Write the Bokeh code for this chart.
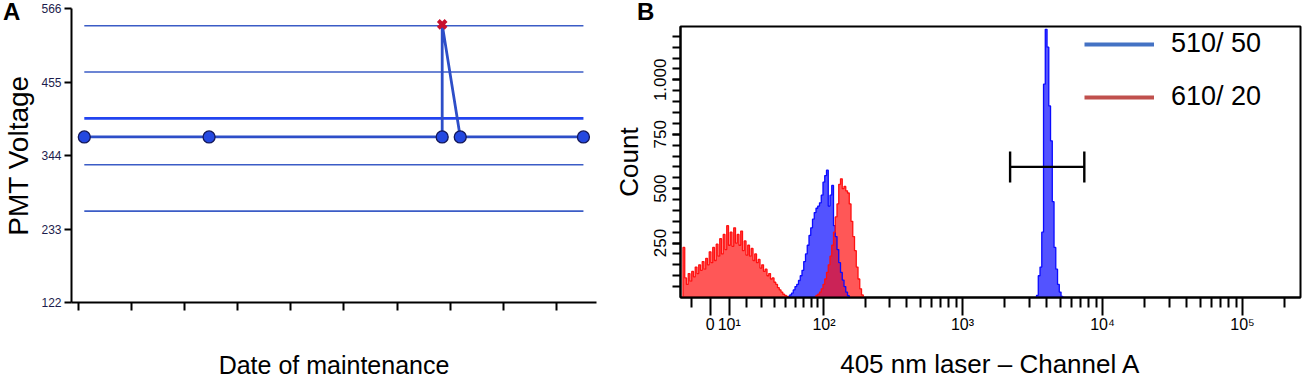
import math
from bokeh.plotting import figure
from bokeh.models import Range1d, FixedTicker, Legend, LegendItem, Div
from bokeh.layouts import row, column
from bokeh.embed import file_html
from bokeh.resources import INLINE

FONT = "Liberation Sans"

# ---------------- Panel A data ----------------
maint_dates = [0.11, 2.46, 6.85, 6.85, 7.19, 9.51]
pmt_voltage = [372, 372, 372, 542, 372, 372]
flagged = [False, False, False, True, False, False]
limit_levels = [540, 470, 330, 260]
target_level = 400
volt_ticks = [122, 233, 344, 455, 566]
date_ticks = [0, 1, 2, 3, 4, 5, 6, 7, 8, 9]

# ---------------- Panel B data (display-scale bins) ----------------
bin_width = 0.0125
red_low_start = 1.01
red_low_counts = [230, 90, 60, 110, 75, 120, 95, 140, 110, 150,
                  125, 165, 130, 180, 150, 210, 160, 230, 170, 245,
                  190, 270, 200, 290, 220, 330, 240, 300, 235, 320,
                  250, 290, 240, 305, 215, 260, 195, 240, 190, 225,
                  170, 200, 160, 175, 135, 150, 120, 130, 100, 110,
                  85, 90, 70, 60, 45, 35, 25, 15, 10, 5]
blue_mid_start = 1.76
blue_mid_counts = [5, 12, 20, 35, 50, 60, 78, 100, 125, 165,
                   200, 240, 285, 320, 360, 390, 410, 420, 435, 470,
                   530, 560, 585, 420, 470, 515, 330, 280, 220, 160,
                   115, 80, 50, 25, 8]
red_mid_start = 1.96
red_mid_counts = [10, 15, 25, 40, 60, 85, 115, 150, 190, 240,
                  300, 370, 430, 520, 545, 500, 510, 490, 480, 430,
                  350, 280, 215, 140, 85, 40, 12]
blue_bright_start = 3.535
blue_bright_counts = [10, 100, 140, 300, 980, 1232, 1150, 880, 720, 440,
                      230, 130, 60, 25, 5]
legend_labels = ["510/ 50", "610/ 20"]
panel_letters = ["A", "B"]
gate_range = [3.34, 3.87]
gate_count = 600
count_major = [250, 500, 750, 1000]
count_labels = ["250", "500", "750", "1.000"]
count_minor = list(range(50, 1201, 50))
decade_values = [0, 10, 100, 1000, 10000, 100000]
decade_labels = ["0", "10\u00b9", "10\u00b2", "10\u00b3", "10\u2074", "10\u2075"]
minor_values = [-10, 20, 30, 40, 50, 60, 70, 80, 90,
                200, 300, 400, 500, 600, 700, 800, 900,
                2000, 3000, 4000, 5000, 6000, 7000, 8000, 9000,
                20000, 30000, 40000, 50000, 60000, 70000, 80000, 90000, 200000]


def disp(v, c=15.8):
    return round(math.log10((v + math.sqrt(v * v + 4 * c * c)) / 2), 6)


def centers(start, n):
    return [start + i * bin_width for i in range(n)]


# ================= Panel A =================
pa = figure(width=610, height=381, x_range=Range1d(-0.131, 9.756), y_range=Range1d(122, 566),
            output_backend="svg", toolbar_location=None, title=None,
            min_border_left=69, min_border_right=14, min_border_top=8, min_border_bottom=78)
pa.outline_line_color = None
pa.grid.visible = False

x0 = min(maint_dates)
x1 = max(maint_dates)
pa.segment(x0=[x0] * len(limit_levels), x1=[x1] * len(limit_levels), y0=limit_levels, y1=limit_levels,
           line_color="#3b5cc6", line_width=1.6)
pa.segment(x0=[x0], x1=[x1], y0=[target_level], y1=[target_level], line_color="#2244f0", line_width=2.6)
pa.line(maint_dates, pmt_voltage, line_color="#2d4ec8", line_width=2.8)
ok_x = [d for d, f in zip(maint_dates, flagged) if not f]
ok_y = [v for v, f in zip(pmt_voltage, flagged) if not f]
bad_x = [d for d, f in zip(maint_dates, flagged) if f]
bad_y = [v for v, f in zip(pmt_voltage, flagged) if f]
pa.scatter(ok_x, ok_y, size=12, fill_color="#2448e0", line_color="#14185a", line_width=1.3)
pa.scatter(bad_x, bad_y, marker="x", size=11, line_color="#c8102e", line_width=4)

ya = pa.yaxis[0]
ya.ticker = FixedTicker(ticks=volt_ticks)
ya.axis_line_width = 2
ya.axis_line_color = "black"
ya.major_tick_out = 7
ya.major_tick_in = 0
ya.minor_tick_out = 0
ya.minor_tick_in = 0
ya.major_tick_line_width = 2
ya.major_label_text_font = FONT
ya.major_label_text_font_size = "12px"
ya.major_label_text_color = "#1c1c4c"
ya.major_label_standoff = 3
ya.axis_label = "PMT Voltage"
ya.axis_label_text_font = FONT
ya.axis_label_text_font_size = "28px"
ya.axis_label_text_font_style = "normal"
ya.axis_label_text_color = "black"
ya.axis_label_standoff = 4

xa = pa.xaxis[0]
xa.ticker = FixedTicker(ticks=[], minor_ticks=date_ticks)
xa.axis_line_width = 2
xa.axis_line_color = "black"
xa.major_tick_out = 8
xa.major_tick_in = 0
xa.minor_tick_out = 8
xa.minor_tick_in = 0
xa.minor_tick_line_width = 2
xa.minor_tick_line_color = "black"
xa.major_label_standoff = 0
xa.axis_label = "Date of maintenance"
xa.axis_label_text_font = FONT
xa.axis_label_text_font_size = "25px"
xa.axis_label_text_font_style = "normal"
xa.axis_label_text_color = "black"
xa.axis_label_standoff = 40

# ================= Panel B =================
pb = figure(width=693, height=381, x_range=Range1d(0.986, 5.414), y_range=Range1d(0, 1245),
            output_backend="svg", toolbar_location=None, title=None,
            min_border_left=70, min_border_right=3, min_border_top=26, min_border_bottom=81)
pb.outline_line_color = "black"
pb.outline_line_width = 2
pb.grid.visible = False

BLUE = "#0a0aff"
RED = "#ff1010"
hists = [
    (blue_mid_start, blue_mid_counts, BLUE),
    (blue_bright_start, blue_bright_counts, BLUE),
    (red_low_start, red_low_counts, RED),
    (red_mid_start, red_mid_counts, RED),
]
for start, counts, col in hists:
    xs = [start - bin_width] + centers(start, len(counts)) + [start + len(counts) * bin_width]
    ys = [0] + counts + [0]
    pb.varea_step(x=xs, y1=[0] * len(ys), y2=ys, step_mode="center", fill_color=col, fill_alpha=0.7)
for start, counts, col in hists:
    xs = [start - bin_width] + centers(start, len(counts)) + [start + len(counts) * bin_width]
    ys = [0] + counts + [0]
    pb.step(x=xs, y=ys, mode="center", line_color=col, line_width=1.3)

# gate
pb.segment(x0=[gate_range[0]], x1=[gate_range[1]], y0=[gate_count], y1=[gate_count],
           line_color="black", line_width=2.2)
pb.scatter(gate_range, [gate_count] * 2, marker="dash", angle=math.pi / 2, size=31,
           line_color="black", line_width=2.4)

yb = pb.yaxis[0]
yb.ticker = FixedTicker(ticks=count_major, minor_ticks=count_minor)
yb.major_label_overrides = dict(zip(count_major, count_labels))
yb.major_label_orientation = "parallel"
yb.axis_line_width = 2
yb.major_tick_out = 8
yb.major_tick_in = 0
yb.major_tick_line_width = 2
yb.minor_tick_out = 8
yb.minor_tick_in = 0
yb.minor_tick_line_width = 2
yb.minor_tick_line_color = "black"
yb.major_label_text_font = FONT
yb.major_label_text_font_size = "17px"
yb.major_label_text_color = "black"
yb.major_label_standoff = 6
yb.axis_label = "Count"
yb.axis_label_text_font = FONT
yb.axis_label_text_font_size = "26px"
yb.axis_label_text_font_style = "normal"
yb.axis_label_text_color = "black"
yb.axis_label_standoff = 8

major_pos = [disp(v) for v in decade_values]
minor_pos = [disp(v) for v in minor_values]
xb = pb.xaxis[0]
xb.ticker = FixedTicker(ticks=major_pos, minor_ticks=minor_pos)
xb.major_label_overrides = dict(zip(major_pos, decade_labels))
xb.axis_line_width = 2
xb.major_tick_out = 18
xb.major_tick_in = 0
xb.minor_tick_out = 10
xb.minor_tick_in = 0
xb.major_tick_line_width = 2
xb.minor_tick_line_width = 2
xb.minor_tick_line_color = "black"
xb.major_label_text_font = FONT
xb.major_label_text_font_size = "16px"
xb.major_label_text_color = "black"
xb.major_label_standoff = 0
xb.axis_label = "405 nm laser \u2013 Channel A"
xb.axis_label_text_font = FONT
xb.axis_label_text_font_size = "26px"
xb.axis_label_text_font_style = "normal"
xb.axis_label_text_color = "black"
xb.axis_label_standoff = 13

nan = float("nan")
r1 = pb.line(x=[nan], y=[nan], line_color="#4472c4", line_width=4)
r2 = pb.line(x=[nan], y=[nan], line_color="#c0504d", line_width=4)
leg = Legend(items=[LegendItem(label=legend_labels[0], renderers=[r1]),
                    LegendItem(label=legend_labels[1], renderers=[r2])],
             location=(404, 185), glyph_width=70, glyph_height=30, label_standoff=17, spacing=22,
             padding=0, margin=0, border_line_color=None, background_fill_alpha=0,
             label_text_font=FONT, label_text_font_size="27px", label_text_color="black")
pb.add_layout(leg)

letter_style = "font-family:'Liberation Sans';font-size:24px;font-weight:bold;line-height:24px;color:black"
div_a = Div(text=f"<span style=\"{letter_style}\">{panel_letters[0]}</span>", width=634, height=24,
            margin=(0, 0, 0, 3))
div_b = Div(text=f"<span style=\"{letter_style}\">{panel_letters[1]}</span>", width=40, height=24,
            margin=(0, 0, 0, 0))
letters = row(div_a, div_b, margin=(-381, 0, 0, 0))

plots = row(column(pa), column(pb))
layout = column(plots, letters)
open("out.html", "w").write(file_html(layout, INLINE))
